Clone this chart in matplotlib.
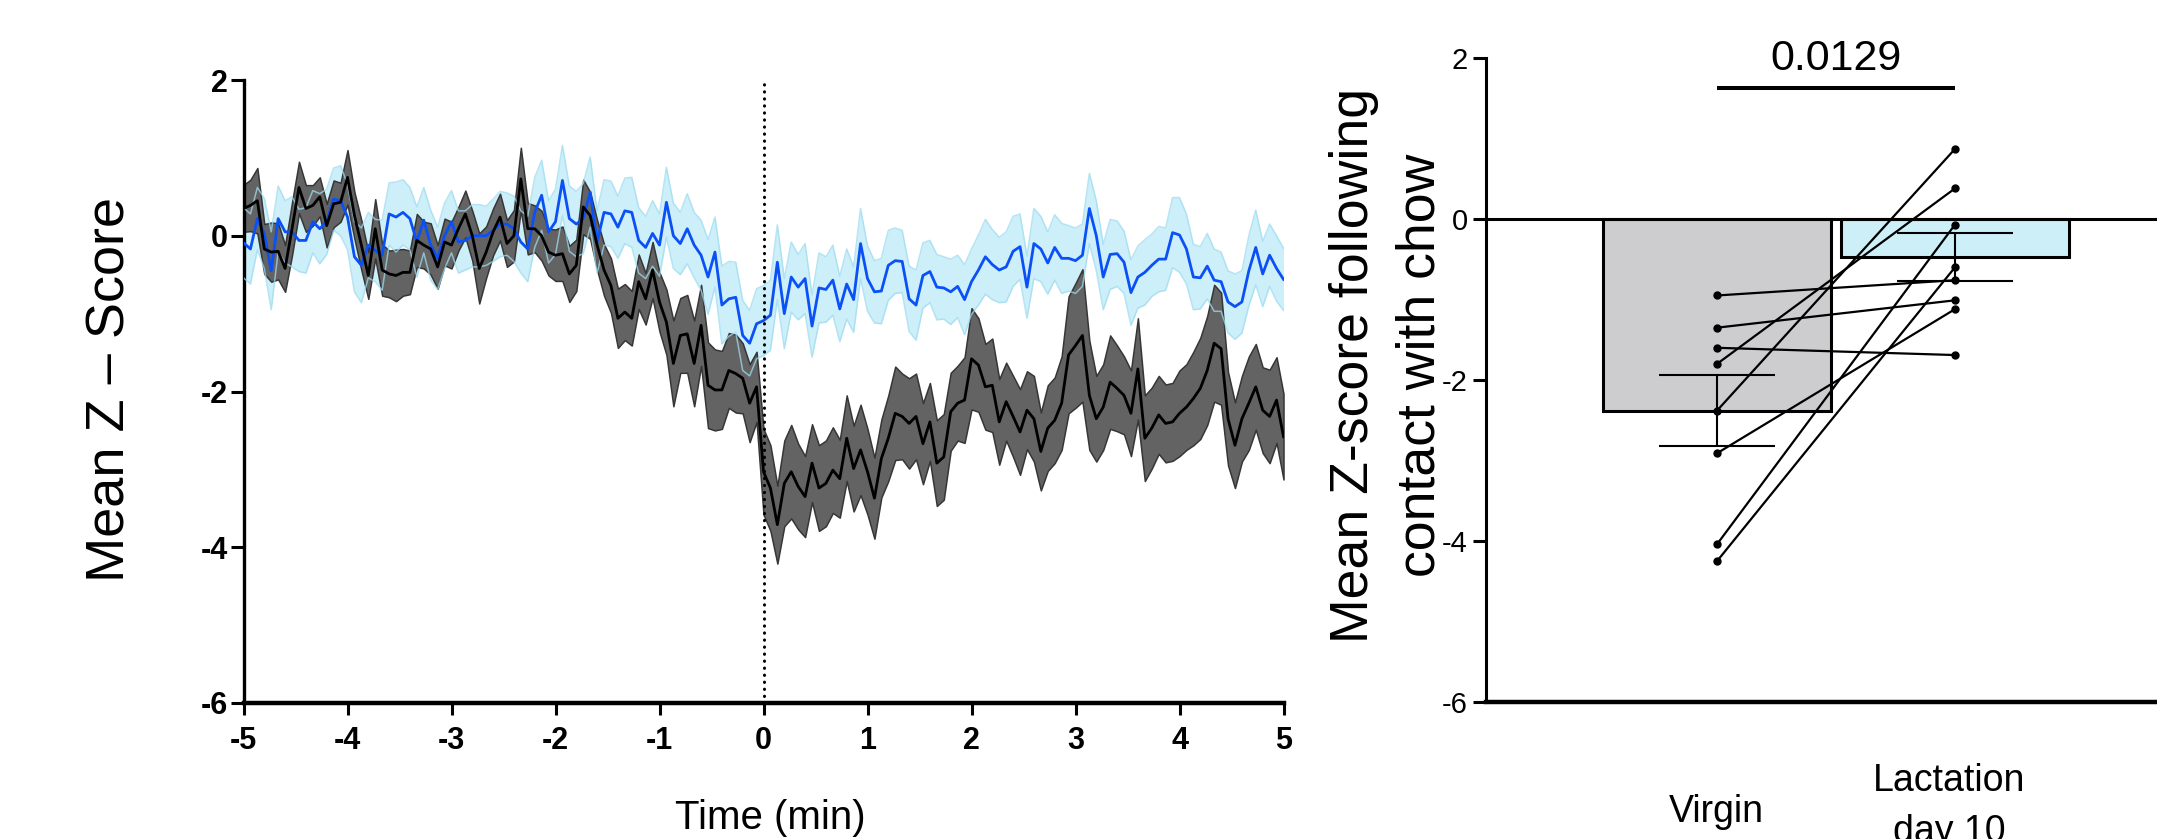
"""Photometry trace around chow contact (left) and per-animal mean Z-score
after contact, virgin vs lactation day 10 (right). Saves out.png."""

import numpy as np
import matplotlib
matplotlib.use("Agg")
import matplotlib.pyplot as plt

plt.rcParams["font.family"] = ["Liberation Sans", "DejaVu Sans"]
plt.rcParams["axes.unicode_minus"] = False

NARROW = ["Liberation Sans Narrow", "Liberation Sans", "DejaVu Sans"]

# 4 s bins from -5 to +5 min around contact
time_min = np.linspace(-5, 5, 151)

virgin_mean = [
    0.35, 0.39, 0.45, -0.17, -0.21, -0.20, -0.42, 0.09, 0.62, 0.35,
    0.39, 0.50, 0.13, 0.41, 0.43, 0.75, 0.26, -0.12, -0.51, 0.09,
    -0.44, -0.49, -0.51, -0.47, -0.47, -0.06, -0.12, -0.17, -0.40, -0.08,
    -0.12, 0.09, 0.28, 0.00, -0.42, -0.21, 0.05, 0.24,
    -0.10, 0.00, 0.73, 0.09, 0.09, 0.00, -0.21, -0.25, -0.23, -0.49,
    -0.38, 0.37, 0.26, -0.12, -0.44, -0.64, -1.06, -0.98, -1.06, -0.59,
    -0.81, -0.44, -0.85, -1.11, -1.64, -1.28, -1.26, -1.64, -1.15, -1.92,
    -1.98, -1.98, -1.73, -1.77, -1.83, -2.15, -1.94,
    -3.03, -3.24, -3.71, -3.18, -3.03, -3.22, -3.35, -2.92, -3.24, -3.18,
    -3.01, -3.12, -2.60, -2.99, -2.75, -3.03, -3.37, -2.86, -2.60, -2.28,
    -2.32, -2.41, -2.32, -2.67, -2.39, -2.92, -2.84, -2.26, -2.15, -2.11,
    -1.58, -1.66, -1.94, -1.92, -2.39, -2.13, -2.32,
    -2.52, -2.24, -2.35, -2.77, -2.47, -2.37, -2.15, -1.53, -1.41, -1.28,
    -2.05, -2.35, -2.20, -1.88, -1.96, -2.05, -2.28, -1.71, -2.60, -2.47,
    -2.30, -2.41, -2.39, -2.28, -2.20, -2.09, -1.96, -1.73, -1.38, -1.45,
    -2.35, -2.69, -2.35, -2.15, -1.94, -2.24, -2.32, -2.11, -2.58,
]
virgin_sem = [
    0.30, 0.33, 0.42, 0.32, 0.38, 0.36, 0.30, 0.34, 0.33, 0.30,
    0.26, 0.25, 0.28, 0.30, 0.25, 0.35, 0.30, 0.32, 0.30, 0.38,
    0.33, 0.30, 0.33, 0.30, 0.28, 0.34, 0.30, 0.33, 0.28, 0.30,
    0.30, 0.28, 0.30, 0.32, 0.45, 0.33, 0.30, 0.30,
    0.30, 0.33, 0.40, 0.33, 0.30, 0.32, 0.30, 0.33, 0.35, 0.36,
    0.33, 0.35, 0.30, 0.32, 0.33, 0.35, 0.38, 0.36, 0.35, 0.35,
    0.33, 0.36, 0.38, 0.42, 0.55, 0.48, 0.50, 0.55, 0.52, 0.55,
    0.52, 0.50, 0.48, 0.50, 0.45, 0.50, 0.45,
    0.55, 0.55, 0.50, 0.55, 0.60, 0.55, 0.52, 0.50, 0.55, 0.55,
    0.55, 0.50, 0.55, 0.55, 0.58, 0.55, 0.52, 0.50, 0.55, 0.60,
    0.55, 0.58, 0.55, 0.52, 0.50, 0.55, 0.55, 0.50, 0.48, 0.55,
    0.65, 0.60, 0.55, 0.60, 0.55, 0.50, 0.52,
    0.55, 0.50, 0.55, 0.50, 0.55, 0.55, 0.60, 0.75, 0.80, 0.85,
    0.70, 0.55, 0.55, 0.60, 0.55, 0.50, 0.55, 0.65, 0.55, 0.52,
    0.50, 0.50, 0.50, 0.55, 0.55, 0.60, 0.65, 0.70, 0.75, 0.72,
    0.60, 0.55, 0.55, 0.60, 0.55, 0.55, 0.60, 0.55, 0.55,
]
lact_mean = [
    -0.09, -0.17, 0.22, 0.03, -0.45, 0.22, 0.05, 0.05, -0.06, -0.06,
    0.18, 0.09, 0.18, 0.47, 0.45, 0.24, -0.27, -0.38, -0.12, -0.19,
    -0.25, 0.28, 0.24, 0.30, 0.22, -0.08, 0.20, -0.12, -0.29, 0.00,
    0.18, -0.08, -0.06, 0.00, 0.00, 0.00, 0.07, 0.15,
    0.15, 0.09, -0.08, -0.17, 0.30, 0.52, 0.05, 0.18, 0.71, 0.22,
    0.15, 0.22, 0.56, -0.08, 0.30, 0.28, 0.11, 0.32, 0.30, -0.06,
    -0.15, 0.03, -0.12, 0.43, 0.00, -0.10, 0.09, -0.12, -0.25, -0.53,
    -0.21, -0.89, -0.81, -0.79, -1.28, -1.38, -1.13,
    -1.09, -1.02, -0.34, -1.00, -0.53, -0.66, -0.55, -1.16, -0.67, -0.69,
    -0.57, -0.94, -0.62, -0.82, -0.10, -0.55, -0.72, -0.71, -0.38, -0.32,
    -0.33, -0.81, -0.89, -0.51, -0.46, -0.66, -0.67, -0.72, -0.65, -0.82,
    -0.59, -0.44, -0.27, -0.37, -0.44, -0.40, -0.20,
    -0.14, -0.66, -0.10, -0.17, -0.35, -0.15, -0.29, -0.29, -0.32, -0.25,
    0.35, 0.00, -0.53, -0.24, -0.23, -0.34, -0.73, -0.53, -0.47, -0.38,
    -0.30, -0.30, 0.04, 0.01, -0.17, -0.53, -0.54, -0.39, -0.57, -0.59,
    -0.85, -0.91, -0.85, -0.45, -0.15, -0.49, -0.25, -0.42, -0.56,
]
lact_sem = [
    0.45, 0.45, 0.40, 0.45, 0.50, 0.42, 0.40, 0.45, 0.40, 0.42,
    0.40, 0.45, 0.42, 0.40, 0.45, 0.42, 0.45, 0.48, 0.42, 0.40,
    0.45, 0.40, 0.45, 0.42, 0.40, 0.45, 0.42, 0.45, 0.40, 0.42,
    0.40, 0.40, 0.38, 0.40, 0.40, 0.38, 0.40, 0.42,
    0.40, 0.42, 0.40, 0.42, 0.45, 0.45, 0.40, 0.42, 0.45, 0.42,
    0.42, 0.45, 0.45, 0.40, 0.42, 0.42, 0.40, 0.42, 0.45, 0.42,
    0.40, 0.42, 0.40, 0.45, 0.42, 0.40, 0.45, 0.42, 0.45, 0.48,
    0.45, 0.50, 0.48, 0.45, 0.45, 0.42, 0.45,
    0.45, 0.45, 0.48, 0.45, 0.45, 0.42, 0.45, 0.40, 0.45, 0.42,
    0.45, 0.42, 0.45, 0.42, 0.45, 0.42, 0.40, 0.42, 0.45, 0.42,
    0.40, 0.42, 0.45, 0.42, 0.40, 0.42, 0.40, 0.42, 0.40, 0.45,
    0.42, 0.45, 0.48, 0.45, 0.42, 0.45, 0.45,
    0.42, 0.40, 0.45, 0.42, 0.40, 0.42, 0.45, 0.42, 0.42, 0.40,
    0.45, 0.45, 0.42, 0.45, 0.42, 0.40, 0.42, 0.40, 0.42, 0.40,
    0.42, 0.40, 0.45, 0.48, 0.45, 0.42, 0.40, 0.42, 0.40, 0.38,
    0.40, 0.42, 0.40, 0.45, 0.48, 0.42, 0.40, 0.42, 0.40,
]

# per-animal mean Z-score after contact (paired)
groups = ["Virgin", "Lactation\nday 10"]
bar_means = [-2.38, -0.47]
bar_sems = [0.44, 0.30]
virgin_pts = [-0.95, -1.35, -1.60, -1.80, -2.38, -2.91, -4.04, -4.25]
lact_pts = [-0.76, -1.01, -1.69, 0.38, 0.87, -1.12, -0.07, -0.60]
p_value = "0.0129"

W, H = 2157, 839
fig = plt.figure(figsize=(W / 100, H / 100), dpi=100)

# ---- left: trace ----
ax = fig.add_axes([243.5 / W, 1 - 703 / H, 1040 / W, 623 / H])
t = time_min
vm, vs = np.array(virgin_mean), np.array(virgin_sem)
lm, ls = np.array(lact_mean), np.array(lact_sem)

ax.fill_between(t, lm - ls, lm + ls, color="#cdeffa", lw=0, zorder=1)
ax.fill_between(t, vm - vs, vm + vs, facecolor="#636363", edgecolor="#363636",
                lw=1.1, zorder=2)
ax.plot(t, lm - ls, color="#9fdcf0", lw=1.1, alpha=0.75, zorder=3)
ax.plot(t, lm + ls, color="#9fdcf0", lw=1.1, alpha=0.75, zorder=3)
ax.plot(t, lm, color="#0a50f5", lw=2.0, zorder=4)
ax.plot(t, vm, color="black", lw=2.0, zorder=5)
ax.axvline(0, color="black", lw=2.2, linestyle=(0, (0.1, 2.2)),
           dash_capstyle="round", zorder=6)

ax.set_xlim(-5, 5)
ax.set_ylim(-6, 2)
ax.set_xticks(range(-5, 6))
ax.set_yticks([2, 0, -2, -4, -6])
for s in ("top", "right"):
    ax.spines[s].set_visible(False)
ax.spines["left"].set_linewidth(2.4)
ax.spines["bottom"].set_linewidth(3.2)
ax.tick_params(axis="x", length=8.6, width=2.2, pad=8, labelsize=22)
ax.tick_params(axis="y", length=9.4, width=2.2, pad=2, labelsize=22)
for lab in ax.get_xticklabels() + ax.get_yticklabels():
    lab.set_fontweight("bold")

fig.text(111 / W, 1 - 389 / H, "Mean Z \u2013 Score", rotation=90,
         ha="center", va="center", fontsize=39)
fig.text(770 / W, 1 - 829 / H, "Time (min)", ha="center", va="baseline",
         fontsize=29)

# ---- right: bars with paired points ----
ax2 = fig.add_axes([1486 / W, 1 - 702 / H, 1 - 1486 / W, 644 / H])
x = [0, 1]
ax2.bar(x, bar_means, width=0.956, color=["#cdcdd0", "#cdf0f8"],
        edgecolor="black", lw=2.2, zorder=1)
ax2.axhline(0, color="black", lw=2.2, zorder=2)
ax2.errorbar(x, bar_means, yerr=bar_sems, fmt="none", ecolor="black",
             elinewidth=1.5, capsize=42, capthick=1.5, zorder=3)
for v, l in zip(virgin_pts, lact_pts):
    ax2.plot(x, [v, l], color="black", lw=1.6, marker="o", ms=5, zorder=4)

ax2.plot([0, 1], [1.63, 1.63], color="black", lw=2.9,
         solid_capstyle="butt", clip_on=False)
ax2.text(0.5, 1.85, p_value, ha="center", va="baseline", fontsize=31)

ax2.set_xlim(-0.971, 1.849)
ax2.set_ylim(-6, 2)
ax2.set_xticks([])
ax2.set_yticks([2, 0, -2, -4, -6])
for s in ("top", "right"):
    ax2.spines[s].set_visible(False)
ax2.spines["left"].set_linewidth(2.2)
ax2.spines["bottom"].set_linewidth(3.2)
ax2.tick_params(axis="y", length=9.4, width=2.2, pad=3.6, labelsize=21)

fig.text(1387 / W, 1 - 365 / H, "Mean Z-score following\ncontact with chow",
         rotation=90, ha="center", va="center", fontsize=38.6,
         multialignment="center", linespacing=1.42)
fig.text(1716 / W, 1 - 822 / H, groups[0], ha="center", va="baseline",
         fontsize=27, family=NARROW)
fig.text(1949 / W, 1 - 763 / H, groups[1], ha="center", va="top",
         fontsize=27, family=NARROW, linespacing=1.55)

fig.savefig("out.png", dpi=100)
